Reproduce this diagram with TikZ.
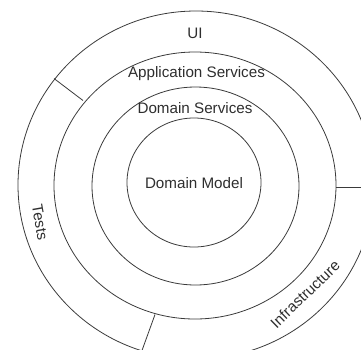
\documentclass[tikz,border=0pt]{standalone}
\usepackage{fontspec}
\setmainfont{Liberation Sans}
\definecolor{linec}{HTML}{3A3A3A}
\definecolor{textc}{HTML}{2E2E2E}
\begin{document}
\begin{tikzpicture}[x=1pt,y=-1pt,
  ring/.style={draw=linec, line width=0.8pt},
  sep/.style={draw=linec, line width=0.8pt},
  lbl/.style={text=textc, font=\fontsize{15.2}{18}\selectfont, inner sep=0pt}]
\useasboundingbox (0,0) rectangle (361,349);
\clip (0,0) rectangle (361,349);
% rings
\draw[ring] (196,185) ellipse [x radius=178pt, y radius=174pt];
\draw[ring] (195,185.5) ellipse [x radius=141pt, y radius=133.5pt];
\draw[ring] (195.5,186) ellipse [x radius=103.5pt, y radius=99pt];
\draw[ring] (194,182.5) ellipse [x radius=67pt, y radius=64.5pt];
% separators
\coordinate (s1a) at (83,100.5);
\coordinate (s1b) at (54,78.5);
\coordinate (s2a) at (336,187);
\coordinate (s2b) at (372,187);
\coordinate (s3a) at (155,314.5);
\coordinate (s3b) at (140,356);
\draw[sep] (s1a) -- (s1b);
\draw[sep] (s2a) -- (s2b);
\draw[sep] (s3a) -- (s3b);
% labels
\node[lbl, anchor=base] (ui) at (195,38.5) {UI};
\node[lbl, anchor=base] (app) at (196.5,77.5) {Application Services};
\node[lbl, anchor=base] (ds) at (195,113.5) {Domain Services};
\node[lbl, anchor=base] (dm) at (194,188) {Domain Model};
\node[lbl, rotate=-80] (tests) at (40,222.5) {Tests};
\node[lbl, rotate=44] (infra) at (305,294) {Infrastructure};
\end{tikzpicture}
\end{document}
